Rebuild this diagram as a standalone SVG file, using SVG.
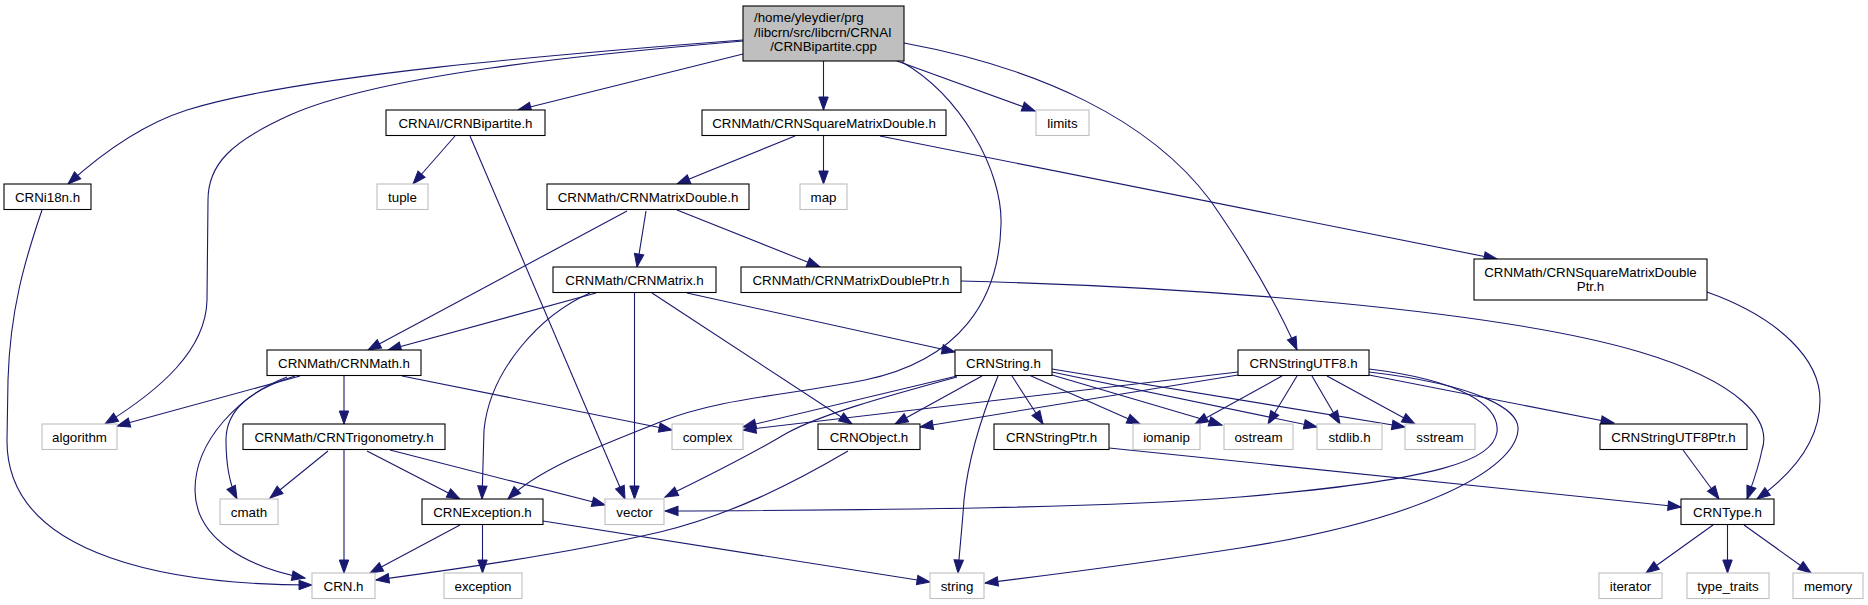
<svg xmlns="http://www.w3.org/2000/svg" width="1868" height="605" viewBox="0 0 1868 605">
<defs>
<style>
.n rect{fill:#fff;stroke:#000;stroke-width:1.1}
.g rect{fill:#fff;stroke:#bfbfbf;stroke-width:1.1}
.m rect{fill:#bfbfbf;stroke:#000;stroke-width:1.1}
text{font-family:"Liberation Sans",Arial,Helvetica,sans-serif;font-size:13.33px;fill:#000;text-anchor:middle}
.e path{fill:none;stroke:#191970;stroke-width:1.1;marker-end:url(#a)}
</style>
<marker id="a" markerUnits="userSpaceOnUse" markerWidth="14" markerHeight="10" viewBox="0 0 14 10" refX="13" refY="4.7" orient="auto" overflow="visible">
<path d="M0,0 L13,4.7 L0,9.4 z" fill="#191970" stroke="#191970" stroke-width="1"/>
</marker>
</defs>
<rect width="1868" height="605" fill="#fff"/>
<g id="edges" class="e">
<path d="M743,40 C560,54 300,75 187,110 C140,125 100,155 68,184"/>
<path d="M743,41 C580,55 380,75 290,115 C230,142 208,165 208,200 L207,300 C206,350 160,390 105,424"/>
<path d="M743,54 L518,110"/>
<path d="M823.5,61 L823.5,110"/>
<path d="M897,61 L1035,111"/>
<path d="M902,62 C960,95 1003,170 1001,225 C999,300 960,360 865,380 C790,395 720,398 660,422 C600,446 540,468 508,499"/>
<path d="M904,43 C1040,68 1150,120 1210,200 C1245,250 1275,300 1297,350"/>
<path d="M455,136 L413,184"/>
<path d="M470,136 L625,499"/>
<path d="M795,136 L677,184"/>
<path d="M823.5,136 L823.5,184"/>
<path d="M880,136 L1497,259"/>
<path d="M42,210 C25,260 10,310 8,380 L7,440 C6,560 180,585 312,585"/>
<path d="M646,211 L637,267"/>
<path d="M677,210 L820,267"/>
<path d="M627,211 L368,350"/>
<path d="M596,293 L388,350"/>
<path d="M590,293 C540,315 490,370 484,430 L482,499"/>
<path d="M634.5,293 L634.5,499"/>
<path d="M652,293 L852,424"/>
<path d="M687,293 L955,352"/>
<path d="M961,281 C1200,287 1500,310 1640,352 C1740,382 1772,420 1762,450 C1758,470 1752,485 1747,499"/>
<path d="M1707,292 C1780,318 1820,360 1820,400 C1820,440 1795,472 1757,499"/>
<path d="M300,376 L117,426"/>
<path d="M344,375.5 L344,424"/>
<path d="M295,376 C250,390 226,410 226,440 C226,465 230,485 237,499"/>
<path d="M287,377 C240,395 195,440 195,490 C195,540 250,568 305,578"/>
<path d="M402,376 L672,430"/>
<path d="M957,376 L743,427"/>
<path d="M982,376 L895,424"/>
<path d="M957,377 C880,398 820,415 787,433 C750,455 700,480 665,497"/>
<path d="M998,376 C980,420 968,460 964,500 C962,530 959,555 958,573"/>
<path d="M1012,376 L1043,424"/>
<path d="M1030,375.5 L1140,424"/>
<path d="M1052,375 L1222,425"/>
<path d="M1052,372 L1317,427"/>
<path d="M1052,369 L1405,427"/>
<path d="M1238,372 L743,430"/>
<path d="M1238,375 L920,427"/>
<path d="M1282,376 L1195,424"/>
<path d="M1297,376 L1268,424"/>
<path d="M1312,376 L1340,424"/>
<path d="M1327,376 L1415,424"/>
<path d="M1369,369 C1460,380 1500,405 1497,432 C1493,460 1440,480 1240,497 C1100,508 900,510 665,511"/>
<path d="M1369,372 C1480,385 1520,410 1518,430 C1515,470 1420,520 1240,548 C1150,562 1050,575 985,583"/>
<path d="M1369,375 L1614,423"/>
<path d="M328,451 L270,498"/>
<path d="M344,450 L344,573"/>
<path d="M367,451 L460,499"/>
<path d="M390,450 L605,505"/>
<path d="M848,451 C790,485 730,515 660,532 C560,555 450,570 376,580"/>
<path d="M1109,448 L1681,507"/>
<path d="M1683,450 L1719,499"/>
<path d="M460,525 L370,573"/>
<path d="M482.5,525 L482.5,573"/>
<path d="M543,521 L930,582"/>
<path d="M1713,525 L1646,573"/>
<path d="M1727.5,525 L1727.5,573"/>
<path d="M1744,525 L1811,573"/>
</g>
<g id="main" class="m"><rect x="743" y="6" width="161" height="55"/><text x="754" y="22" style="text-anchor:start">/home/yleydier/prg</text><text x="754" y="36.5" style="text-anchor:start">/libcrn/src/libcrn/CRNAI</text><text x="823.5" y="51">/CRNBipartite.cpp</text></g>
<g id="n_bipartite_h" class="n"><rect x="386" y="110" width="159" height="25.5"/><text x="465.5" y="127.5">CRNAI/CRNBipartite.h</text></g>
<g id="n_sqmatdouble" class="n"><rect x="702" y="110" width="244" height="25.5"/><text x="824" y="127.5">CRNMath/CRNSquareMatrixDouble.h</text></g>
<g id="n_limits" class="g"><rect x="1036" y="110" width="53" height="25.5"/><text x="1062.5" y="127.5">limits</text></g>
<g id="n_i18n" class="n"><rect x="4" y="184" width="87" height="25.5"/><text x="47.5" y="201.5">CRNi18n.h</text></g>
<g id="n_tuple" class="g"><rect x="377" y="184" width="51" height="25.5"/><text x="402.5" y="201.5">tuple</text></g>
<g id="n_matdouble" class="n"><rect x="547" y="184" width="202" height="25.5"/><text x="648" y="201.5">CRNMath/CRNMatrixDouble.h</text></g>
<g id="n_map" class="g"><rect x="800" y="184" width="47" height="25.5"/><text x="823.5" y="201.5">map</text></g>
<g id="n_matrix" class="n"><rect x="553" y="267" width="163" height="25.5"/><text x="634.5" y="284.5">CRNMath/CRNMatrix.h</text></g>
<g id="n_matdoubleptr" class="n"><rect x="741" y="267" width="220" height="25.5"/><text x="851" y="284.5">CRNMath/CRNMatrixDoublePtr.h</text></g>
<g id="n_sqmatdoubleptr" class="n"><rect x="1474" y="259" width="233" height="41"/><text x="1590.5" y="276.5">CRNMath/CRNSquareMatrixDouble</text><text x="1590.5" y="291">Ptr.h</text></g>
<g id="n_math" class="n"><rect x="267" y="350" width="154" height="25.5"/><text x="344" y="367.5">CRNMath/CRNMath.h</text></g>
<g id="n_string_h" class="n"><rect x="955" y="350" width="97" height="25.5"/><text x="1003.5" y="367.5">CRNString.h</text></g>
<g id="n_stringutf8" class="n"><rect x="1238" y="350" width="131" height="25.5"/><text x="1303.5" y="367.5">CRNStringUTF8.h</text></g>
<g id="n_algorithm" class="g"><rect x="42" y="424" width="75" height="25.5"/><text x="79.5" y="441.5">algorithm</text></g>
<g id="n_trig" class="n"><rect x="243" y="424" width="202" height="25.5"/><text x="344" y="441.5">CRNMath/CRNTrigonometry.h</text></g>
<g id="n_complex" class="g"><rect x="672" y="424" width="71" height="25.5"/><text x="707.5" y="441.5">complex</text></g>
<g id="n_object" class="n"><rect x="818" y="424" width="102" height="25.5"/><text x="869" y="441.5">CRNObject.h</text></g>
<g id="n_stringptr" class="n"><rect x="994" y="424" width="115" height="25.5"/><text x="1051.5" y="441.5">CRNStringPtr.h</text></g>
<g id="n_iomanip" class="g"><rect x="1133" y="424" width="67" height="25.5"/><text x="1166.5" y="441.5">iomanip</text></g>
<g id="n_ostream" class="g"><rect x="1224" y="424" width="69" height="25.5"/><text x="1258.5" y="441.5">ostream</text></g>
<g id="n_stdlib" class="g"><rect x="1317" y="424" width="65" height="25.5"/><text x="1349.5" y="441.5">stdlib.h</text></g>
<g id="n_sstream" class="g"><rect x="1405" y="424" width="70" height="25.5"/><text x="1440" y="441.5">sstream</text></g>
<g id="n_stringutf8ptr" class="n"><rect x="1600" y="424" width="147" height="25.5"/><text x="1673.5" y="441.5">CRNStringUTF8Ptr.h</text></g>
<g id="n_cmath" class="g"><rect x="220" y="499" width="58" height="25.5"/><text x="249" y="516.5">cmath</text></g>
<g id="n_exception_h" class="n"><rect x="422" y="499" width="121" height="25.5"/><text x="482.5" y="516.5">CRNException.h</text></g>
<g id="n_vector" class="g"><rect x="605" y="499" width="59" height="25.5"/><text x="634.5" y="516.5">vector</text></g>
<g id="n_type" class="n"><rect x="1681" y="499" width="93" height="25.5"/><text x="1727.5" y="516.5">CRNType.h</text></g>
<g id="n_crn" class="g"><rect x="312" y="573" width="63" height="25.5"/><text x="343.5" y="590.5">CRN.h</text></g>
<g id="n_exception" class="g"><rect x="444" y="573" width="78" height="25.5"/><text x="483" y="590.5">exception</text></g>
<g id="n_string" class="g"><rect x="930" y="573" width="54" height="25.5"/><text x="957" y="590.5">string</text></g>
<g id="n_iterator" class="g"><rect x="1599" y="573" width="63" height="25.5"/><text x="1630.5" y="590.5">iterator</text></g>
<g id="n_type_traits" class="g"><rect x="1687" y="573" width="82" height="25.5"/><text x="1728" y="590.5">type_traits</text></g>
<g id="n_memory" class="g"><rect x="1793" y="573" width="70" height="25.5"/><text x="1828" y="590.5">memory</text></g>
</svg>
